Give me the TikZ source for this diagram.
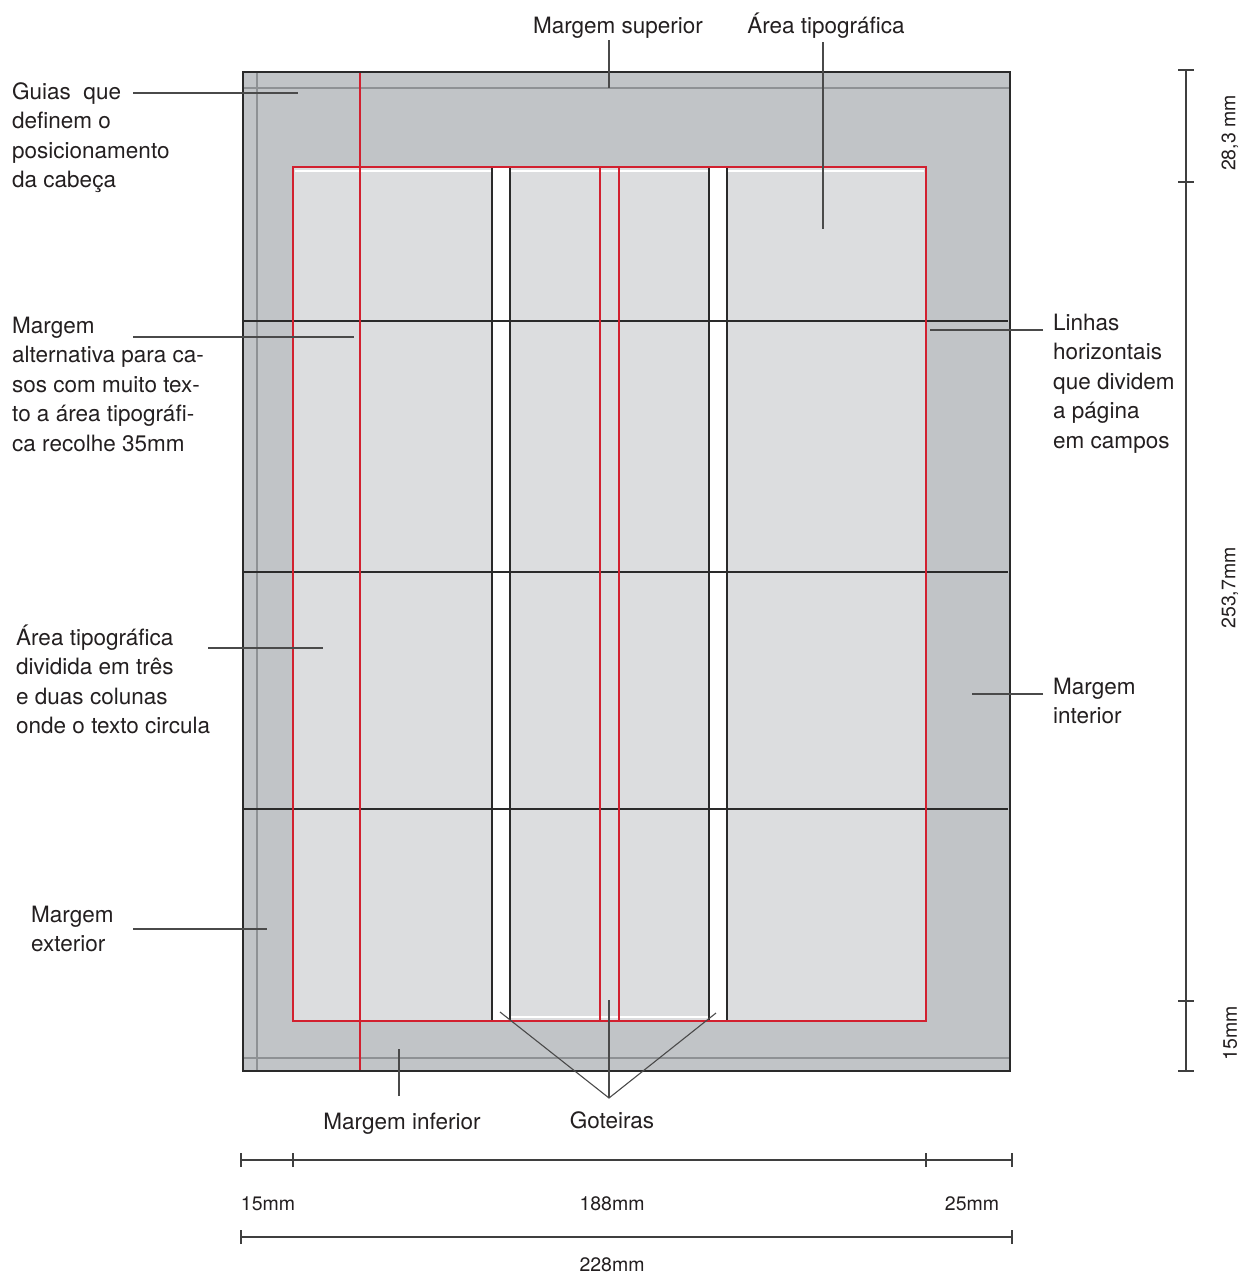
\documentclass[tikz,border=0pt]{standalone}
\usepackage{fontspec}
\setmainfont{TeX Gyre Heros}
\definecolor{pagegray}{HTML}{C1C4C7}
\definecolor{typegray}{HTML}{DCDDDF}
\definecolor{guidegray}{HTML}{8E9194}
\definecolor{redline}{HTML}{D2202F}
\definecolor{inkc}{HTML}{2A2A2A}
\definecolor{txt}{HTML}{231F20}
\tikzset{
  gridline/.style={draw=inkc, line width=1.7pt},
  redl/.style={draw=redline, line width=1.7pt},
  guide/.style={draw=guidegray, line width=1.6pt},
  leader/.style={draw=inkc!85, line width=1.1pt},
  dimline/.style={draw=inkc!90, line width=1.1pt},
  lbl/.style={inner sep=0pt, text=txt, font=\fontsize{22.5}{29.5}\selectfont},
  dimlbl/.style={inner sep=0pt, text=txt, font=\fontsize{19.5}{22}\selectfont},
}
\newcommand{\lines}[1]{\begin{tabular}[t]{@{}l@{}}#1\end{tabular}}
\begin{document}
\begin{tikzpicture}[x=1pt,y=-1pt]
\useasboundingbox (0,0) rectangle (1241,1274);
% page
\fill[pagegray] (243,72) rectangle (1010,1071);
\fill[typegray] (293,167) rectangle (926,1021);
\fill[white] (492,167) rectangle (510,1021);
\fill[white] (709,167) rectangle (727,1021);
\draw[white, line width=1.5pt] (295,171) -- (924,171);
\draw[white, line width=1.5pt] (511,1017) -- (708,1017);
% guides
\draw[guide] (243,88) -- (1010,88);
\draw[guide] (243,1058) -- (1010,1058);
\draw[guide] (257,72) -- (257,1071);
% horizontal fields
\foreach \yy in {321,572,809} \draw[gridline] (243,\yy) -- (1008,\yy);
% gutters
\foreach \xx in {492,510,709,727} \draw[gridline] (\xx,167) -- (\xx,1021);
% red lines
\draw[redl] (293,167) rectangle (926,1021);
\draw[redl] (600,167) -- (600,1021);
\draw[redl] (619,167) -- (619,1021);
\draw[redl] (360,72) -- (360,1071);
% page border
\draw[draw=inkc, line width=2pt] (243,72) rectangle (1010,1071);

% labels
\node[lbl, anchor=base] (msup) at (618,33) {Margem superior};
\node[lbl, anchor=base] (atip) at (826,33) {Área tipográfica};
\node[lbl, anchor=base west] (guias) at (12,99) {\lines{Guias~ que\\definem o\\posicionamento\\da cabeça}};
\node[lbl, anchor=base west] (malt) at (12,333) {\lines{Margem\\alternativa para ca-\\sos com muito tex-\\to a área tipográfi-\\ca recolhe 35mm}};
\node[lbl, anchor=base west] (adiv) at (16,645) {\lines{Área tipográfica\\dividida em três\\e duas colunas\\onde o texto circula}};
\node[lbl, anchor=base west] (mext) at (31,922) {\lines{Margem\\exterior}};
\node[lbl, anchor=base west] (linh) at (1053,330) {\lines{Linhas\\horizontais\\que dividem\\a página\\em campos}};
\node[lbl, anchor=base west] (mint) at (1053,694) {\lines{Margem\\interior}};
\node[lbl, anchor=base] (minf) at (402,1129) {Margem inferior};
\node[lbl, anchor=base] (got) at (612,1128) {Goteiras};

% leader coordinates
\coordinate (msupA) at (609,40);   \coordinate (msupB) at (609,88);
\coordinate (atipA) at (823,42);   \coordinate (atipB) at (823,229);
\coordinate (guiasA) at (133,93);  \coordinate (guiasB) at (298,93);
\coordinate (maltA) at (133,337);  \coordinate (maltB) at (354,337);
\coordinate (adivA) at (208,648);  \coordinate (adivB) at (323,648);
\coordinate (mextA) at (133,929);  \coordinate (mextB) at (267,929);
\coordinate (linhA) at (1043,330); \coordinate (linhB) at (930,330);
\coordinate (mintA) at (1043,694); \coordinate (mintB) at (972,694);
\coordinate (minfA) at (399,1096); \coordinate (minfB) at (399,1049);
\coordinate (gotA) at (609,1098);
\coordinate (gotL) at (500,1012);  \coordinate (gotR) at (716,1013);
\coordinate (gotM) at (609,1000);

\draw[leader] (msupA) -- (msupB);
\draw[leader] (atipA) -- (atipB);
\draw[leader] (guiasA) -- (guiasB);
\draw[leader] (maltA) -- (maltB);
\draw[leader] (adivA) -- (adivB);
\draw[leader] (mextA) -- (mextB);
\draw[leader] (linhA) -- (linhB);
\draw[leader] (mintA) -- (mintB);
\draw[leader] (minfA) -- (minfB);
\draw[leader] (gotL) -- (gotA) -- (gotR);
\draw[leader] (gotA) -- (gotM);

% right dimension
\coordinate (r0) at (1186,70);
\coordinate (r1) at (1186,182);
\coordinate (r2) at (1186,1001);
\coordinate (r3) at (1186,1071);
\draw[dimline] (r0) -- (r3);
\foreach \c in {r0,r1,r2,r3} \draw[dimline] ([xshift=-8pt]\c) -- ([xshift=8pt]\c);
\node[dimlbl, rotate=90] (d283) at (1230,133) {28,3 mm};
\node[dimlbl, rotate=90] (d2537) at (1230,588) {253,7mm};
\node[dimlbl, rotate=90] (d15v) at (1230,1033) {15mm};

% bottom dimensions
\coordinate (b0) at (241,1160);
\coordinate (b1) at (293,1160);
\coordinate (b2) at (926,1160);
\coordinate (b3) at (1012,1160);
\draw[dimline] (b0) -- (b3);
\foreach \c in {b0,b1,b2,b3} \draw[dimline] ([yshift=-7pt]\c) -- ([yshift=7pt]\c);
\coordinate (t0) at (241,1237);
\coordinate (t1) at (1012,1237);
\draw[dimline] (t0) -- (t1);
\foreach \c in {t0,t1} \draw[dimline] ([yshift=-7pt]\c) -- ([yshift=7pt]\c);
\node[dimlbl] (d15) at (268,1204) {15mm};
\node[dimlbl] (d188) at (612,1204) {188mm};
\node[dimlbl] (d25) at (972,1204) {25mm};
\node[dimlbl] (d228) at (612,1265) {228mm};
\end{tikzpicture}
\end{document}
